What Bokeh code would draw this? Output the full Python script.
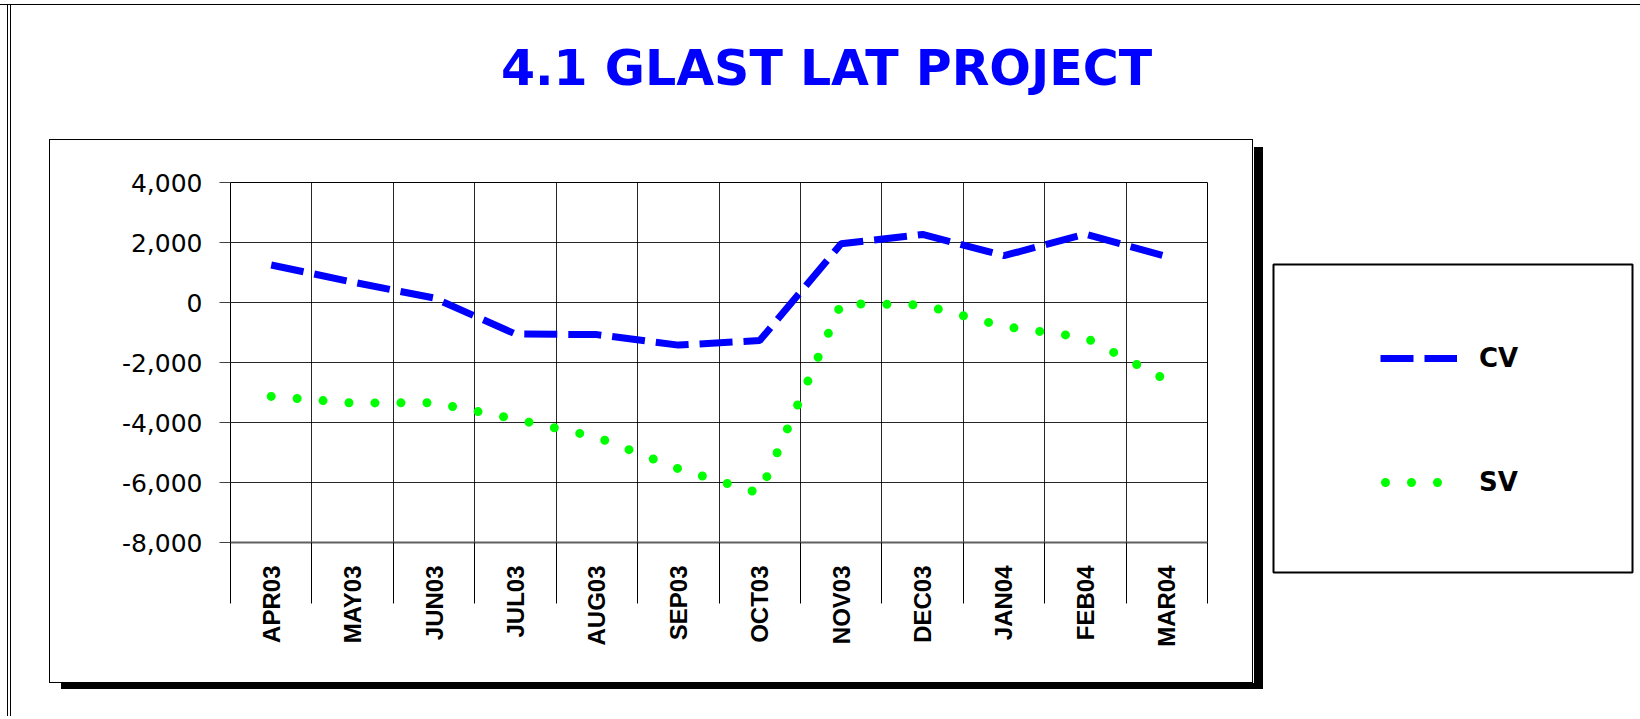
import math
import numpy as np
from bokeh.plotting import figure
from bokeh.layouts import column, row
from bokeh.models import (Range1d, FixedTicker, NumeralTickFormatter, Legend,
                          LegendItem, Label)
from bokeh.embed import file_html
from bokeh.resources import INLINE

# ---- data ----
months = ["APR03", "MAY03", "JUN03", "JUL03", "AUG03", "SEP03",
          "OCT03", "NOV03", "DEC03", "JAN04", "FEB04", "MAR04"]
cv = [1250, 680, 150, -1050, -1070, -1420, -1270, 1960, 2270, 1560, 2280, 1530]
sv = [-3130, -3350, -3340, -3890, -4490, -5540, -6360, -40, -80, -800, -1170, -2590]
y_ticks = [-8000, -6000, -4000, -2000, 0, 2000, 4000]
title_text = "4.1 GLAST LAT PROJECT"
series_names = ["CV", "SV"]

CV_STYLE = dict(line_color="#0000FF", line_width=7, line_dash="33 11")
SV_STYLE = dict(line_color="#00FF00", line_width=9, line_dash="0 26", line_cap="round")

n = len(months)
xc = [i + 0.5 for i in range(n)]

# ---- title strip ----
t = figure(width=1628, height=134, output_backend="svg", toolbar_location=None,
           x_range=Range1d(0, 1628), y_range=Range1d(134, 0), min_border=0,
           x_axis_location=None, y_axis_location=None, margin=(6, 0, 0, 12))
t.grid.visible = False
t.outline_line_color = None
t.background_fill_color = "white"
t.border_fill_color = "white"
t.add_layout(Label(x=814, y=62, text=title_text, text_align="center",
                   text_baseline="middle", text_font="DejaVu Sans",
                   text_font_style="bold", text_font_size="49px",
                   text_color="#0000FF"))

# ---- chart ----
p = figure(width=1202, height=542, output_backend="svg", toolbar_location=None,
           x_range=Range1d(0, n), y_range=Range1d(y_ticks[0], y_ticks[-1]),
           min_border_left=180, min_border_right=45,
           min_border_top=42, min_border_bottom=140,
           margin=(0, 0, 34, 50))
p.styles = {"box-shadow": "0 0 0 1px black, 2px 1px 0 0 white, 11px 7px 0 0 black"}
p.background_fill_color = "white"
p.border_fill_color = "white"
p.outline_line_color = "black"
p.outline_line_width = 1

xt = FixedTicker(ticks=xc, minor_ticks=list(range(n + 1)))
p.xaxis.ticker = xt
p.xaxis.major_label_overrides = {x: m for x, m in zip(xc, months)}
p.xaxis.major_label_orientation = math.pi / 2
p.xaxis.major_tick_line_color = None
p.xaxis.major_tick_out = 0
p.xaxis.major_tick_in = 0
p.xaxis.minor_tick_out = 61
p.xaxis.minor_tick_in = 0
p.xaxis.minor_tick_line_color = "black"
p.xaxis.major_label_standoff = -38
p.xaxis.major_label_text_font = "Liberation Sans"
p.xaxis.major_label_text_font_style = "bold"
p.xaxis.major_label_text_font_size = "24px"
p.xaxis.major_label_text_color = "black"
p.xaxis.axis_line_color = "#606060"
p.xaxis.axis_line_width = 2

yt = FixedTicker(ticks=y_ticks, minor_ticks=[])
p.yaxis.ticker = yt
p.yaxis.formatter = NumeralTickFormatter(format="0,0")
p.yaxis.major_tick_out = 11
p.yaxis.major_tick_in = 0
p.yaxis.major_tick_line_color = "#404040"
p.yaxis.minor_tick_line_color = None
p.yaxis.major_label_standoff = 17
p.yaxis.major_label_text_font = "DejaVu Sans"
p.yaxis.major_label_text_font_size = "25px"
p.yaxis.major_label_text_color = "black"
p.yaxis.axis_line_color = "black"

p.xgrid.ticker = xt
p.xgrid.grid_line_color = None
p.xgrid.minor_grid_line_color = "black"
p.xgrid.minor_grid_line_alpha = 0.85
p.ygrid.ticker = yt
p.ygrid.grid_line_color = "black"
p.ygrid.grid_line_alpha = 0.85

p.line(xc, cv, **CV_STYLE)
p.line(xc, sv, **SV_STYLE)

# ---- legend box (its frame is the box; borders follow the row's alignment) ----
lg = figure(width=362, height=490, output_backend="svg", toolbar_location=None,
            x_range=Range1d(0, 1), y_range=Range1d(0, 1),
            min_border_left=1, min_border_right=2,
            min_border_top=42, min_border_bottom=140,
            x_axis_location=None, y_axis_location=None, margin=(82, 0, 0, 20))
lg.grid.visible = False
lg.outline_line_color = "black"
lg.outline_line_width = 2
lg.background_fill_color = "white"
lg.border_fill_color = "white"
k_cv = lg.line(xc, cv, visible=False, **CV_STYLE)
k_sv = lg.line(xc, sv, visible=False, line_dash_offset=-5, **SV_STYLE)
legend = Legend(items=[LegendItem(label=series_names[0], renderers=[k_cv]),
                       LegendItem(label=series_names[1], renderers=[k_sv])],
                location=(97, 65), orientation="vertical",
                glyph_width=77, glyph_height=30, label_height=30,
                label_standoff=22, spacing=94, padding=10, margin=0,
                border_line_alpha=0, background_fill_alpha=0,
                label_text_font="DejaVu Sans", label_text_font_style="bold",
                label_text_font_size="26px", label_text_color="black")
lg.add_layout(legend)

root = column(t, row(p, lg))
root.styles = {"box-shadow": "inset 0 4px 0 0 white, inset 0 5px 0 0 black, "
                             "inset 7px 0 0 0 white, inset 8px 0 0 0 black, "
                             "inset 10px 0 0 0 white, inset 11px 0 0 0 black"}

open("out.html", "w").write(file_html(root, INLINE))
